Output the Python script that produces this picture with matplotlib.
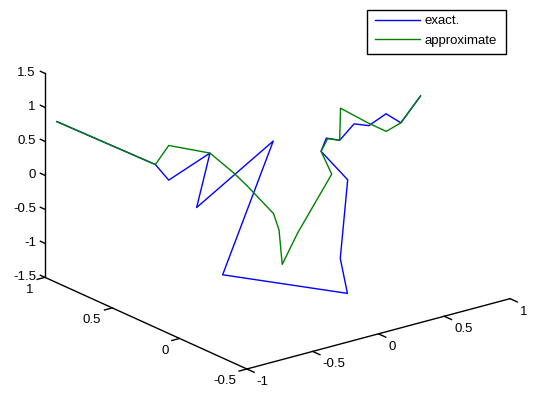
import numpy as np
import matplotlib
matplotlib.use('Agg')
import matplotlib.pyplot as plt
from matplotlib.lines import Line2D
from matplotlib.patches import Rectangle
from mpl_toolkits.mplot3d import proj3d

exact_x = [-0.95, -0.58, -0.53, -0.37, -0.42, 0.06, -0.56, 0.02, 0.16, 0.38, 0.28, 0.33, 0.35, 0.47, 0.50, 0.60, 0.59, 0.78]
exact_y = [0.96, 0.59, 0.54, 0.39, 0.44, 0.34, 0.11, -0.25, -0.06, 0.10, 0.20, 0.21, 0.13, 0.14, 0.06, 0.03, -0.09, -0.05]
exact_z = [0.80, 0.31, 0.10, 0.55, -0.27, 0.55, -0.89, -1.14, -0.87, 0.03, 0.41, 0.57, 0.60, 0.77, 0.80, 0.95, 0.93, 1.19]

approx_x = [-0.95, -0.58, -0.53, -0.37, -0.28, -0.23, -0.03, -0.07, -0.23, 0.03, 0.32, 0.28, 0.33, 0.35, 0.52, 0.51, 0.53, 0.59, 0.78]
approx_y = [0.96, 0.59, 0.54, 0.39, 0.30, 0.25, 0.25, 0.17, -0.01, 0.13, 0.16, 0.20, 0.20, 0.13, 0.29, 0.07, -0.04, -0.09, -0.05]
approx_z = [0.80, 0.31, 0.61, 0.55, 0.29, 0.12, -0.39, -0.54, -0.80, -0.60, 0.09, 0.41, 0.57, 0.60, 0.84, 0.82, 0.79, 0.93, 1.19]

x_ticks = [-1, -0.5, 0, 0.5, 1]
y_ticks = [-0.5, 0, 0.5, 1]
z_ticks = [-1.5, -1, -0.5, 0, 0.5, 1, 1.5]
x_tick_labels = ['-1', '-0.5', '0', '0.5', '1']
y_tick_labels = ['-0.5', '0', '0.5', '1']
z_tick_labels = ['-1.5', '-1', '-0.5', '0', '0.5', '1', '1.5']
series_labels = ['exact.', 'approximate']
series_colors = ['#0000ff', '#008000']

# ---- figure ----
W, H = 539, 398
FONT = 'Liberation Sans'
FS = 9.5
fig = plt.figure(figsize=(W/100, H/100), dpi=100)
fig.patch.set_facecolor('white')

S = 502
cx, cy = 270.7, 192.8
ax = fig.add_axes([(cx-S/2)/W, (H-cy-S/2)/H, S/W, S/H], projection='3d', proj_type='ortho')
ax.view_init(elev=20.38, azim=-127.5)
ax.set_box_aspect((1, 1, 0.656))
ax.set_xlim(x_ticks[0], x_ticks[-1])
ax.set_ylim(y_ticks[0], y_ticks[-1])
ax.set_zlim(z_ticks[0], z_ticks[-1])
ax.set_axis_off()

x0, x1 = x_ticks[0], x_ticks[-1]
y0, y1 = y_ticks[0], y_ticks[-1]
z0, z1 = z_ticks[0], z_ticks[-1]

ax.plot(exact_x, exact_y, exact_z, color=series_colors[0], lw=1.0)
ax.plot(approx_x, approx_y, approx_z, color=series_colors[1], lw=1.0)

# axis lines
ak = dict(color='black', lw=1.0)
ax.plot([x0, x1], [y0, y0], [z0, z0], **ak)
ax.plot([x0, x0], [y0, y1], [z0, z0], **ak)
ax.plot([x0, x0], [y1, y1], [z0, z1], **ak)

# ticks
for xv in x_ticks:
    ax.plot([xv, xv], [y0, y0 - 0.054], [z0, z0], **ak)
for yv in y_ticks:
    ax.plot([x0, x0 - 0.059], [yv, yv], [z0, z0], **ak)
for zv in z_ticks:
    ax.plot([x0, x0], [y1, y1 + 0.034], [zv, zv], **ak)

# tick labels: project the 3D tick positions with the axes' own projection
M = ax.get_proj()
def proj(x, y, z):
    xp, yp, _ = proj3d.proj_transform(x, y, z, M)
    return (float(xp), float(yp))

tk = dict(family=FONT, fontsize=FS, color='black', xycoords='data',
          textcoords='offset pixels', annotation_clip=False)
for xv, s in zip(x_ticks, x_tick_labels):
    ax.annotate(s, xy=proj(xv, y0, z0), xytext=(10, -13), ha='left', va='center', **tk)
for yv, s in zip(y_ticks, y_tick_labels):
    ax.annotate(s, xy=proj(x0, yv, z0), xytext=(-11, -12.5), ha='right', va='center', **tk)
for zv, s in zip(z_ticks, z_tick_labels):
    ax.annotate(s, xy=proj(x0, y1, zv), xytext=(-9, 0), ha='right', va='center', **tk)

# legend
handles = [Line2D([], [], color=c, lw=1.0) for c in series_colors]
leg = fig.legend(handles, series_labels, loc='upper left',
                 bbox_to_anchor=(375/W, 1 - 15/H), frameon=False,
                 borderpad=0, borderaxespad=0, handlelength=3.44,
                 handletextpad=0.32, labelspacing=0.55,
                 prop=dict(family=FONT, size=FS))
fig.patches.append(Rectangle((367/W, 1 - 54/H), 139/W, 44/H, transform=fig.transFigure,
                             fill=False, edgecolor='black', lw=1.0))

fig.savefig('out.png', dpi=100, facecolor='white')
